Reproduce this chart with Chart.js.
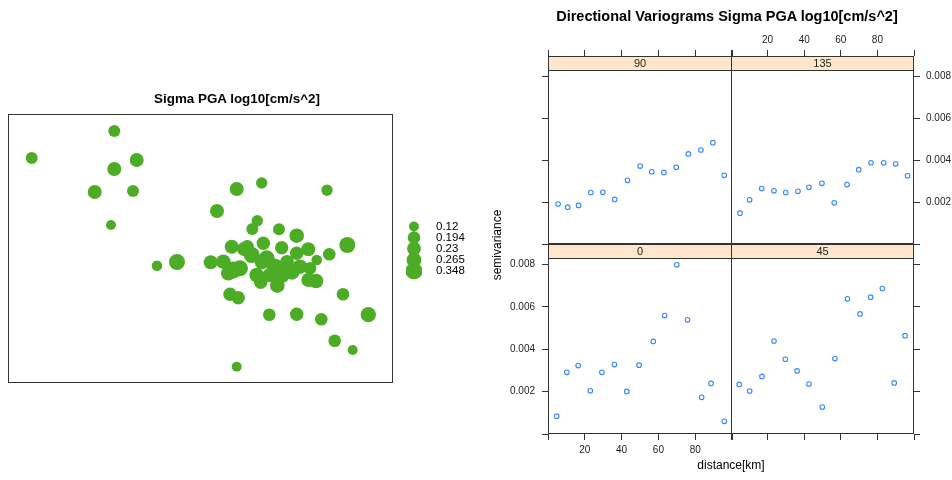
<!DOCTYPE html>
<html>
<head>
<meta charset="utf-8">
<script src="https://cdn.jsdelivr.net/npm/chart.js@4.4.1/dist/chart.umd.min.js"></script>
<style>
  html, body { margin: 0; padding: 0; background: #fff; }
  body { width: 952px; height: 480px; position: relative; overflow: hidden;
         font-family: "Liberation Sans", Arial, Helvetica, sans-serif; }
  canvas { position: absolute; left: 0; top: 0; }
  .txt { position: absolute; white-space: nowrap; color: #000; line-height: 16px; }
  .title { font-weight: bold; text-align: center; }
</style>
</head>
<body>
<canvas id="bubble" width="952" height="480"></canvas>
<canvas id="bubbleKey" width="952" height="480"></canvas>
<canvas id="p90" width="952" height="480"></canvas>
<canvas id="p135" width="952" height="480"></canvas>
<canvas id="p0" width="952" height="480"></canvas>
<canvas id="p45" width="952" height="480"></canvas>

<div class="txt title" style="left:137px; width:200px; top:91px; font-size:13.4px;">Sigma PGA log10[cm/s^2]</div>
<div class="txt title" style="left:527px; width:400px; top:8px; font-size:14.5px;">Directional Variograms Sigma PGA log10[cm/s^2]</div>
<div class="txt" style="left:681px; width:100px; top:457px; font-size:12px; text-align:center;">distance[km]</div>
<div class="txt" style="left:447px; width:100px; top:237px; font-size:12px; text-align:center; transform:rotate(-90deg);">semivariance</div>

<script>
// ---------------- DATA ----------------
// Station map (left panel): coordinates (map units) and sigma PGA values
const stationX = [23.7, 106.3, 128.7, 106.3, 86.7, 125, 103, 149, 169, 228.7, 253.7, 319, 209, 339.3, 335,
  261.3, 288.7, 313.3, 360.3, 326.7, 344.7, 228.7, 249.3, 244.3, 271, 288.7, 223.7, 239.3, 255.3, 273.7,
  288.7, 300.3, 321.3, 308.7, 202.7, 215.3, 225.3, 232, 243.7, 258.7, 267, 273.7, 283.7, 292, 302,
  300.3, 308, 252.7, 269.3, 222, 230.3, 220.3, 248.7, 262, 236, 254, 279];
const stationY = [225, 252, 223, 214, 191, 192, 158, 117.3, 121, 194, 200, 192.7, 172, 138, 88.7,
  68.3, 68.7, 63.7, 68.3, 42.3, 33, 16.3, 162.3, 154, 153.7, 147.3, 136.3, 136.3, 139.7, 135.3,
  129.7, 133.7, 128.7, 123, 120.7, 121.3, 113, 114.7, 128, 124.7, 116.3, 108, 111.3, 116.3, 114.7,
  103, 102, 100.7, 97.3, 88.7, 85.3, 109.7, 108, 108, 134, 121, 121];
const sigmaPGA = [0.173, 0.173, 0.236, 0.236, 0.236, 0.173, 0.12, 0.135, 0.308, 0.236, 0.156, 0.156, 0.236, 0.308, 0.191,
  0.191, 0.216, 0.191, 0.28, 0.191, 0.12, 0.12, 0.156, 0.173, 0.173, 0.257, 0.236, 0.216, 0.216, 0.216,
  0.216, 0.236, 0.191, 0.135, 0.236, 0.257, 0.348, 0.308, 0.308, 0.308, 0.308, 0.308, 0.308, 0.257, 0.191,
  0.236, 0.257, 0.216, 0.257, 0.216, 0.216, 0.257, 0.257, 0.257, 0.236, 0.257, 0.236];
const keyValues = [0.12, 0.194, 0.23, 0.265, 0.348];

// Directional variograms: distance [km] and semivariance per direction
const dist90  = [5.5, 10.7, 16.6, 23.3, 29.8, 36.2, 43.2, 50.1, 56.4, 63.0, 69.7, 76.3, 83.1, 89.6, 95.8];
const gamma90 = [0.00191, 0.00176, 0.00184, 0.00246, 0.00247, 0.00213, 0.00304, 0.00372, 0.00345, 0.00342,
  0.00366, 0.0043, 0.00449, 0.00484, 0.00328];
const dist135  = [4.9, 10.2, 16.8, 23.5, 29.9, 36.6, 42.6, 49.7, 56.4, 63.4, 69.8, 76.5, 83.4, 90.0, 96.5];
const gamma135 = [0.00147, 0.00211, 0.00265, 0.00254, 0.00246, 0.00252, 0.00271, 0.0029, 0.00197, 0.00284,
  0.00355, 0.00388, 0.00388, 0.00383, 0.00326];
const dist0  = [4.7, 10.2, 16.4, 23.0, 29.3, 36.1, 42.8, 49.5, 57.2, 63.4, 70.0, 75.8, 83.5, 88.6, 95.8];
const gamma0 = [0.00084, 0.00291, 0.00323, 0.00204, 0.00291, 0.00328, 0.00201, 0.00325, 0.00437, 0.00559,
  0.00799, 0.00539, 0.00173, 0.00239, 0.0006];
const dist45  = [4.5, 10.2, 16.9, 23.5, 29.7, 36.1, 42.6, 49.9, 56.8, 63.6, 70.5, 76.3, 82.7, 89.2, 95.1];
const gamma45 = [0.00234, 0.00203, 0.00272, 0.00439, 0.00353, 0.00298, 0.00236, 0.00127, 0.00356, 0.00638,
  0.00567, 0.00646, 0.00687, 0.00241, 0.00464];

const distTicks = [0, 20, 40, 60, 80, 100];
const distLabeled = [20, 40, 60, 80];
const gammaTicks = [0, 0.002, 0.004, 0.006, 0.008];
const gammaLabeled = [0.002, 0.004, 0.006, 0.008];

// ---------------- STYLE / LAYOUT ----------------
const W = 952, H = 480;
const GREEN = '#4DAC26';
const BLUE = '#3a86ff';
const LINE = '#333333';
const FONT = '"Liberation Sans", Arial, Helvetica, sans-serif';
Chart.defaults.font.family = FONT;

const maxSigma = Math.max(...keyValues);
const MAX_R = 8.5;
const radiusOf = v => MAX_R * Math.sqrt(v / maxSigma);

const YW = 50;   // reserved width of y-axis boxes
const XH = 28;   // reserved height of x-axis boxes
const noOverflow = s => { s.paddingLeft = 0; s.paddingRight = 0; s.paddingTop = 0; s.paddingBottom = 0; };

// ---------- Left: bubble map ----------
const mapBox = { L: 8, T: 114, R: 393, B: 383 };
const framePlugin = {
  id: 'frame',
  afterDraw(chart) {
    const a = chart.chartArea, ctx = chart.ctx;
    ctx.save();
    ctx.strokeStyle = LINE; ctx.lineWidth = 1;
    ctx.strokeRect(a.left + 0.5, a.top + 0.5, a.right - a.left - 1, a.bottom - a.top - 1);
    ctx.restore();
  }
};
new Chart(document.getElementById('bubble'), {
  type: 'bubble',
  data: { datasets: [{
    data: stationX.map((x, i) => ({ x: x, y: stationY[i], r: radiusOf(sigmaPGA[i]) })),
    backgroundColor: GREEN, borderColor: GREEN, borderWidth: 0, hoverRadius: 0
  }]},
  options: {
    responsive: false, animation: false, events: [], devicePixelRatio: 1,
    layout: { autoPadding: false, padding: { left: mapBox.L, right: W - mapBox.R, top: mapBox.T, bottom: H - mapBox.B } },
    plugins: { legend: { display: false }, tooltip: { enabled: false } },
    scales: {
      x: { type: 'linear', display: false, min: 0, max: mapBox.R - mapBox.L },
      y: { type: 'linear', display: false, min: 0, max: mapBox.B - mapBox.T }
    }
  },
  plugins: [framePlugin]
});

// ---------- Left: size key ----------
new Chart(document.getElementById('bubbleKey'), {
  type: 'bubble',
  data: { datasets: [{
    data: keyValues.map((v, i) => ({ x: 0, y: i, r: radiusOf(v) })),
    backgroundColor: GREEN, borderWidth: 0, hoverRadius: 0
  }]},
  options: {
    responsive: false, animation: false, events: [], devicePixelRatio: 1,
    layout: { autoPadding: false, padding: { left: 406, right: W - 422 - YW, top: 226.5, bottom: H - 271 } },
    plugins: { legend: { display: false }, tooltip: { enabled: false } },
    scales: {
      x: { type: 'linear', display: false, min: -1, max: 1 },
      y: { type: 'category', position: 'right', labels: keyValues.map(String), offset: false,
           afterFit: s => { s.width = YW; noOverflow(s); },
           grid: { display: false, drawTicks: false }, border: { display: false },
           ticks: { padding: 14, color: '#000', font: { size: 11.5 }, autoSkip: false } }
    }
  }
});

// ---------- Right: variogram panels ----------
const STRIP = 14;
const Y_MAX = 1.04 * Math.max(...gamma90, ...gamma135, ...gamma0, ...gamma45);
const X_MAX = 100;

const stripPlugin = {
  id: 'strip',
  afterDraw(chart, args, opts) {
    const a = chart.chartArea, ctx = chart.ctx;
    ctx.save();
    ctx.fillStyle = '#FFE5CC';
    ctx.fillRect(a.left, a.top, a.right - a.left, STRIP);
    ctx.strokeStyle = LINE; ctx.lineWidth = 1;
    ctx.beginPath();
    ctx.moveTo(a.left, a.top + STRIP + 0.5); ctx.lineTo(a.right, a.top + STRIP + 0.5);
    ctx.stroke();
    ctx.strokeRect(a.left + 0.5, a.top + 0.5, a.right - a.left - 1, a.bottom - a.top - 1);
    ctx.fillStyle = '#222';
    ctx.font = '11px ' + FONT;
    ctx.textAlign = 'center'; ctx.textBaseline = 'middle';
    ctx.fillText(opts.text, (a.left + a.right) / 2, a.top + STRIP / 2 + 0.5);
    ctx.restore();
  }
};

function panel(id, label, dist, gamma, g) {
  const yTop = Y_MAX * (g.B - g.T) / (g.B - g.T - STRIP);
  const pad = {
    left: g.L - (g.yPos === 'left' ? YW : 0),
    right: W - g.R - (g.yPos === 'right' ? YW : 0),
    top: g.T - (g.xPos === 'top' ? XH : 0),
    bottom: H - g.B - (g.xPos === 'bottom' ? XH : 0)
  };
  return new Chart(document.getElementById(id), {
    type: 'scatter',
    data: { datasets: [{
      data: dist.map((d, i) => ({ x: d, y: gamma[i] })),
      pointStyle: 'circle', pointRadius: 2.3, pointHoverRadius: 2.3,
      borderColor: BLUE, backgroundColor: 'rgba(0,0,0,0)', borderWidth: 1.1, showLine: false
    }]},
    options: {
      responsive: false, animation: false, events: [], devicePixelRatio: 1,
      layout: { autoPadding: false, padding: pad },
      plugins: { legend: { display: false }, tooltip: { enabled: false }, strip: { text: label } },
      scales: {
        x: {
          type: 'linear', position: g.xPos, min: 0, max: X_MAX,
          afterBuildTicks: s => { s.ticks = distTicks.map(v => ({ value: v })); },
          afterFit: s => { s.height = XH; noOverflow(s); },
          grid: { drawOnChartArea: false, drawTicks: true, tickLength: 6, color: LINE, tickColor: LINE },
          border: { display: false },
          ticks: { padding: 4, color: '#222', font: { size: 10 }, maxRotation: 0, minRotation: 0, autoSkip: false,
                   callback: v => (g.xLab && distLabeled.includes(v)) ? String(v) : '' }
        },
        y: {
          type: 'linear', position: g.yPos, min: 0, max: yTop,
          afterBuildTicks: s => { s.ticks = gammaTicks.map(v => ({ value: v })); },
          afterFit: s => { s.width = YW; noOverflow(s); },
          grid: { drawOnChartArea: false, drawTicks: true, tickLength: 6, color: LINE, tickColor: LINE },
          border: { display: false },
          ticks: { padding: g.yPos === 'left' ? 7 : 6, color: '#222', font: { size: 10 }, autoSkip: false,
                   callback: v => (g.yLab && gammaLabeled.includes(v)) ? v.toFixed(3) : '' }
        }
      }
    },
    plugins: [stripPlugin]
  });
}

panel('p90',  '90',  dist90,  gamma90,  { L: 548, R: 732, T: 56,  B: 244, xPos: 'top',    xLab: false, yPos: 'left',  yLab: false });
panel('p135', '135', dist135, gamma135, { L: 731, R: 914, T: 56,  B: 244, xPos: 'top',    xLab: true,  yPos: 'right', yLab: true });
panel('p0',   '0',   dist0,   gamma0,   { L: 548, R: 732, T: 244, B: 434, xPos: 'bottom', xLab: true,  yPos: 'left',  yLab: true });
panel('p45',  '45',  dist45,  gamma45,  { L: 731, R: 914, T: 244, B: 434, xPos: 'bottom', xLab: false, yPos: 'right', yLab: false });
</script>
</body>
</html>
